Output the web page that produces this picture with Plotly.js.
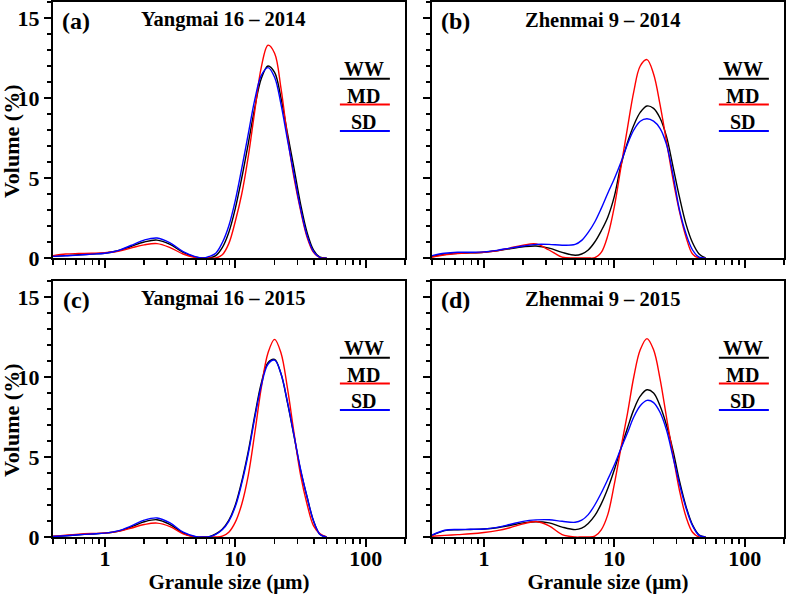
<!DOCTYPE html>
<html>
<head>
<meta charset="utf-8">
<script src="https://cdn.plot.ly/plotly-3.0.1.min.js"></script>
<style>html,body{margin:0;padding:0;background:#fff;}#chart{width:787px;height:594px;}</style>
</head>
<body>
<div id="chart"></div>
<script>
// Granule size (µm) sampling points
const sizes = [0.4, 0.5, 0.63, 0.79, 1, 1.26, 1.58, 2, 2.51, 3.16, 3.98, 5.01, 5.62, 6.31, 7.08, 7.94, 8.91, 10, 11.2, 12.6, 14.1, 15.8, 17.8, 20, 22.4, 25.1, 28.2, 31.6, 35.5, 39.8, 44.7, 50.1];

const treatments = ["WW", "MD", "SD"];
const colors = ["#000000", "#ff0000", "#0000ff"];
const panelLabels = ["(a)", "(b)", "(c)", "(d)"];
const panelTitles = ["Yangmai 16 \u2013 2014", "Zhenmai 9 \u2013 2014", "Yangmai 16 \u2013 2015", "Zhenmai 9 \u2013 2015"];
const xTitle = "Granule size (\u03bcm)";
const yTitle = "Volume (%)";

// (a) Yangmai 16 - 2014
const a_WW = [0.1,0.15,0.2,0.25,0.3,0.45,0.72,1.0,1.12,0.85,0.35,0.05, 0,0,0.15,0.65,1.6,3.1,5.0,7.2,9.4,11.2,12.0,11.6,10.0,7.8,5.6,3.4,1.6,0.5,0.05,0];
const a_MD = [0.15,0.25,0.28,0.3,0.33,0.42,0.62,0.82,0.9,0.65,0.25,0.02, 0,0,0,0.2,0.9,2.3,4.0,6.4,9.2,11.9,13.3,12.8,10.6,7.6,5.0,3.0,1.3,0.35,0.02,0];
const a_SD = [0.1,0.14,0.18,0.24,0.3,0.46,0.78,1.12,1.25,0.95,0.4,0.07, 0,0.1,0.3,0.95,2.0,3.6,5.6,7.8,9.9,11.4,11.9,11.3,9.6,7.4,5.2,3.1,1.4,0.4,0.03,0];
// (b) Zhenmai 9 - 2014
const b_WW = [0.1,0.22,0.3,0.32,0.36,0.45,0.58,0.7,0.75,0.62,0.35,0.17, 0.25,0.5,1.0,1.7,2.55,3.85,5.75,7.2,8.3,9.1,9.5,9.35,8.75,7.6,5.7,3.8,2.1,0.95,0.25,0];
const b_MD = [0.05,0.2,0.28,0.32,0.36,0.45,0.62,0.8,0.88,0.5,0.05,0, 0,0,0.02,0.35,1.4,3.2,5.6,8.1,10.4,12.0,12.4,11.5,9.6,7.3,4.9,2.9,1.3,0.25,0,0];
const b_SD = [0.15,0.3,0.36,0.36,0.38,0.48,0.62,0.75,0.85,0.85,0.8,0.85, 1.1,1.6,2.25,3.1,4.05,4.95,5.95,7.1,8.0,8.55,8.7,8.55,8.1,7.1,5.2,3.0,1.5,0.5,0.05,0];
// (c) Yangmai 16 - 2015
const c_WW = [0.03,0.08,0.14,0.19,0.24,0.36,0.62,0.95,1.08,0.78,0.25,0, 0,0.02,0.2,0.49,1.04,2.0,3.48,5.4,7.6,9.6,10.9,11.1,10.2,8.4,6.3,4.2,2.5,1.0,0.15,0];
const c_MD = [0.05,0.12,0.18,0.22,0.25,0.35,0.55,0.78,0.87,0.65,0.2,0, 0,0,0,0.05,0.3,0.93,2.05,3.9,6.5,9.3,11.5,12.35,11.5,9.3,6.5,3.9,2.05,0.7,0.2,0];
const c_SD = [0.03,0.08,0.14,0.19,0.24,0.38,0.68,1.05,1.19,0.88,0.3,0.02, 0,0.02,0.17,0.45,0.98,1.9,3.35,5.25,7.45,9.45,10.8,11.05,10.2,8.45,6.35,4.25,2.5,1.0,0.15,0];
// (d) Zhenmai 9 - 2015
const d_WW = [0.1,0.4,0.45,0.47,0.5,0.58,0.72,0.88,0.95,0.88,0.62,0.46, 0.55,0.85,1.33,2.07,3.03,4.2,5.5,6.8,7.96,8.8,9.2,9.0,8.2,7.0,5.4,3.5,1.9,0.75,0.12,0];
const d_MD = [0.05,0.1,0.15,0.2,0.28,0.4,0.58,0.82,0.97,0.7,0.15,0, 0,0,0.05,0.45,1.4,3.3,5.5,7.7,10.0,11.7,12.4,11.7,9.9,7.5,5.1,2.9,1.25,0.3,0,0];
const d_SD = [0.12,0.42,0.47,0.48,0.5,0.6,0.78,0.98,1.07,1.08,0.98,0.92, 1.05,1.4,2.0,2.75,3.6,4.5,5.5,6.5,7.5,8.2,8.54,8.4,7.8,6.7,5.0,3.3,1.8,0.7,0.1,0];

const panels = [[a_WW, a_MD, a_SD], [b_WW, b_MD, b_SD], [c_WW, c_MD, c_SD], [d_WW, d_MD, d_SD]];

const FONT = "'Liberation Serif', 'Times New Roman', 'DejaVu Serif', serif";
const traces = [];
panels.forEach((series, p) => {
  const ax = p === 0 ? "" : String(p + 1);
  series.forEach((vals, i) => {
    traces.push({
      x: sizes, y: vals, type: "scatter", mode: "lines",
      name: treatments[i],
      line: {color: colors[i], width: 1.4, shape: "spline", smoothing: 1},
      xaxis: "x" + ax, yaxis: "y" + ax, hoverinfo: "skip"
    });
  });
});

const xDomL = [53/787, 405/787], xDomR = [432/787, 784/787];
const yDomT = [1 - 258/594, 1 - 2/594], yDomB = [1 - 537/594, 1 - 281/594];

function xAxis(domain, anchor, showLabels) {
  const o = {
    domain: domain, anchor: anchor, type: "log",
    range: [Math.log10(0.4), Math.log10(200)],
    tickvals: [1, 10, 100], ticktext: ["1", "10", "100"],
    showticklabels: showLabels, ticklabelstandoff: -7,
    ticks: "outside", ticklen: 8, tickwidth: 2, tickcolor: "#000",
    minor: {ticks: "outside", ticklen: 5, tickwidth: 1.5, tickcolor: "#000", dtick: "D1", showgrid: false},
    showline: true, linewidth: 2, linecolor: "#000", mirror: true,
    showgrid: false, zeroline: false, fixedrange: true, automargin: false,
    tickfont: {family: FONT, size: 22, color: "#000", weight: "bold"}
  };
  if (showLabels) {
    o.title = {text: xTitle, font: {family: FONT, size: 21, color: "#000", weight: "bold"}, standoff: 4};
  }
  return o;
}
function yAxis(domain, anchor, showLabels) {
  return {
    domain: domain, anchor: anchor, range: [0, 16],
    tickvals: [0, 5, 10, 15], showticklabels: showLabels,
    ticks: "outside", ticklen: 7, tickwidth: 2, tickcolor: "#000",
    minor: {ticks: "outside", ticklen: 4, tickwidth: 1.5, tickcolor: "#000", dtick: 1, showgrid: false},
    showline: true, linewidth: 2, linecolor: "#000", mirror: true,
    showgrid: false, zeroline: false, fixedrange: true, automargin: false,
    tickfont: {family: FONT, size: 22, color: "#000", weight: "bold"}
  };
}

const annotations = [];
const shapes = [];
const legendY = [0.738, 0.633, 0.533];
const lineY = [0.700, 0.600, 0.496];
panels.forEach((series, p) => {
  const ax = p === 0 ? "" : String(p + 1);
  const xr = "x" + ax + " domain", yr = "y" + ax + " domain";
  annotations.push({xref: xr, yref: yr, x: 0.066, y: 0.926, text: panelLabels[p], showarrow: false,
    xanchor: "center", yanchor: "middle", font: {family: FONT, size: 24, color: "#000", weight: "bold"}});
  annotations.push({xref: xr, yref: yr, x: 0.483, y: 0.93, text: panelTitles[p], showarrow: false,
    xanchor: "center", yanchor: "middle", font: {family: FONT, size: 20.5, color: "#000", weight: "bold"}});
  treatments.forEach((t, i) => {
    annotations.push({xref: xr, yref: yr, x: 0.883, y: legendY[i], text: t, showarrow: false,
      xanchor: "center", yanchor: "middle", font: {family: FONT, size: 20, color: "#000", weight: "bold"}});
    shapes.push({type: "line", xref: xr, yref: yr, x0: 0.815, x1: 0.957, y0: lineY[i], y1: lineY[i],
      line: {color: colors[i], width: 2}});
  });
});
// y-axis titles for the left-hand panels
[1 - 142/594, 1 - 421/594].forEach(yc => {
  annotations.push({xref: "paper", yref: "paper", x: 11/787, y: yc, text: yTitle, textangle: -90,
    showarrow: false, xanchor: "center", yanchor: "middle",
    font: {family: FONT, size: 22, color: "#000", weight: "bold"}});
});

const layout = {
  width: 787, height: 594,
  margin: {l: 0, r: 0, t: 0, b: 0},
  paper_bgcolor: "#fff", plot_bgcolor: "#fff",
  showlegend: false,
  font: {family: FONT, color: "#000"},
  xaxis: xAxis(xDomL, "y", false),
  yaxis: yAxis(yDomT, "x", true),
  xaxis2: xAxis(xDomR, "y2", false),
  yaxis2: yAxis(yDomT, "x2", false),
  xaxis3: xAxis(xDomL, "y3", true),
  yaxis3: yAxis(yDomB, "x3", true),
  xaxis4: xAxis(xDomR, "y4", true),
  yaxis4: yAxis(yDomB, "x4", false),
  annotations: annotations,
  shapes: shapes
};

Plotly.newPlot("chart", traces, layout, {staticPlot: true, displayModeBar: false});
</script>
</body>
</html>
